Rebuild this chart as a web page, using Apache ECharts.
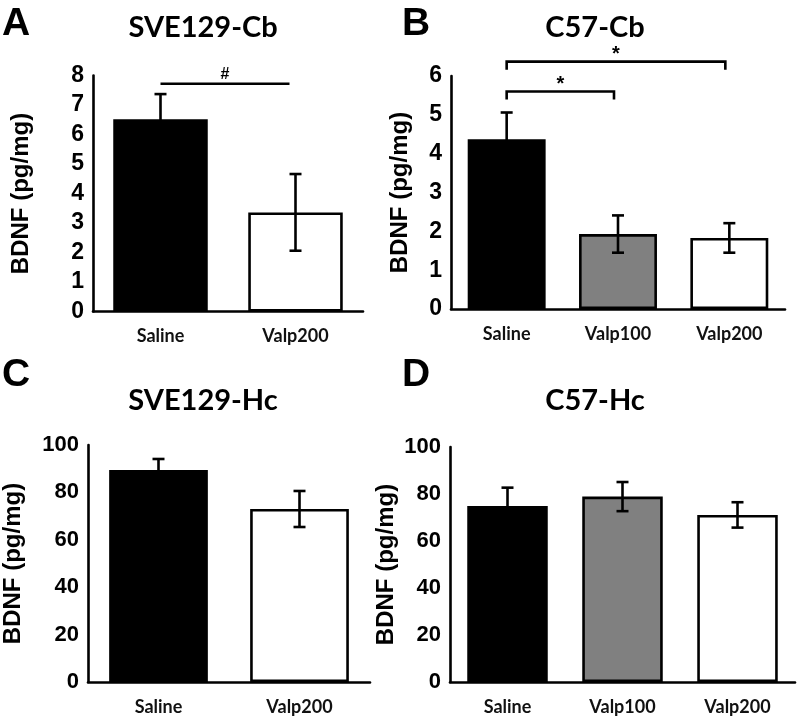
<!DOCTYPE html>
<html>
<head>
<meta charset="utf-8">
<script src="https://cdn.jsdelivr.net/npm/echarts@6/dist/echarts.min.js"></script>
<style>
html,body{margin:0;padding:0;background:#fff;}
#main{width:800px;height:725px;}
</style>
</head>
<body>
<div id="main"></div>
<script>
// ---- data ----
const categoriesA = ['Saline', 'Valp200'];
const meansA = [6.52, 3.36];
const errA = [0.85, 1.3];
const sigA = [[0, 1, 7.72, '#']];

const categoriesB = ['Saline', 'Valp100', 'Valp200'];
const meansB = [4.37, 1.93, 1.83];
const errB = [0.69, 0.48, 0.38];
const sigB = [[0, 1, 5.6, '*'], [0, 2, 6.37, '*']];

const categoriesC = ['Saline', 'Valp200'];
const meansC = [89.5, 73.0];
const errC = [4.6, 7.6];

const categoriesD = ['Saline', 'Valp100', 'Valp200'];
const meansD = [74.9, 78.9, 71.1];
const errD = [7.8, 6.2, 5.4];

const yMaxA = 8, yStepA = 1;
const yMaxB = 6, yStepB = 1;
const yMaxC = 100, yStepC = 20;
const yMaxD = 100, yStepD = 20;

const panelTitles = ['SVE129-Cb', 'C57-Cb', 'SVE129-Hc', 'C57-Hc'];
const panelLetters = ['A', 'B', 'C', 'D'];
const yName = 'BDNF (pg/mg)';

// ---- styles ----
const fills2 = ['#000000', '#ffffff'];
const fills3 = ['#000000', '#808080', '#ffffff'];
const LW = 2.6;
const tickFont = 'Liberation Sans, Arial, sans-serif';
const catFont = 'Lato, "Open Sans", sans-serif';

const chart = echarts.init(document.getElementById('main'));

const grids = [
  {left: 93, top: 75.5, width: 270, height: 236},
  {left: 451, top: 76, width: 334, height: 233},
  {left: 86, top: 445, width: 284, height: 237},
  {left: 450, top: 447, width: 345, height: 235}
];

function xAxis(i, cats) {
  return {
    type: 'category', gridIndex: i, data: cats,
    axisLine: {lineStyle: {color: '#000', width: LW}},
    axisTick: {show: false},
    axisLabel: {color: '#111', fontFamily: catFont, fontWeight: 'bold', fontSize: 18, margin: 16}
  };
}
function yAxis(i, max, step, gap, labelSize) {
  return {
    type: 'value', gridIndex: i, min: 0, max: max, interval: step,
    name: yName, nameLocation: 'middle', nameGap: gap,
    nameTextStyle: {color: '#000', fontFamily: tickFont, fontWeight: 'bold', fontSize: 24},
    axisLine: {show: true, lineStyle: {color: '#000', width: LW}},
    axisTick: {show: false},
    splitLine: {show: false},
    axisLabel: {color: '#000', fontFamily: tickFont, fontWeight: 'bold', fontSize: labelSize, margin: 9}
  };
}
function barSeries(i, means, fills) {
  return {
    type: 'bar', xAxisIndex: i, yAxisIndex: i, barWidth: '70%',
    data: means.map((v, k) => ({value: v, itemStyle: {color: fills[k], borderColor: '#000', borderWidth: LW}})),
    silent: true, animation: false
  };
}
function errSeries(i, means, errs) {
  return {
    type: 'custom', xAxisIndex: i, yAxisIndex: i, clip: false, animation: false, silent: true, z: 5,
    data: means.map((v, k) => [k, v, errs[k]]),
    renderItem: function (params, api) {
      const k = api.value(0), v = api.value(1), e = api.value(2);
      const top = api.coord([k, v + e]);
      const bot = api.coord([k, v - e]);
      const w = 6;
      const st = {stroke: '#000', lineWidth: LW, fill: null};
      return {type: 'group', children: [
        {type: 'line', shape: {x1: top[0], y1: top[1], x2: bot[0], y2: bot[1]}, style: st},
        {type: 'line', shape: {x1: top[0] - w, y1: top[1], x2: top[0] + w, y2: top[1]}, style: st},
        {type: 'line', shape: {x1: bot[0] - w, y1: bot[1], x2: bot[0] + w, y2: bot[1]}, style: st}
      ]};
    }
  };
}
function sigSeries(i, sigs, tickLen, fontSize, textOffset, shrinkRight) {
  return {
    type: 'custom', xAxisIndex: i, yAxisIndex: i, clip: false, animation: false, silent: true, z: 6,
    data: sigs,
    renderItem: function (params, api) {
      const a = api.coord([api.value(0), api.value(2)]);
      const b = api.coord([api.value(1), api.value(2)]);
      const x2 = b[0] - shrinkRight;
      const st = {stroke: '#000', lineWidth: LW, fill: null};
      const pts = tickLen > 0
        ? [[a[0], a[1] + tickLen], [a[0], a[1]], [x2, a[1]], [x2, a[1] + tickLen]]
        : [[a[0], a[1]], [x2, a[1]]];
      return {type: 'group', children: [
        {type: 'polyline', shape: {points: pts}, style: st},
        {type: 'text', style: {text: sigs[params.dataIndex][3], x: (a[0] + x2) / 2, y: a[1] - textOffset,
          align: 'center', verticalAlign: 'middle', fill: '#000', font: 'bold ' + fontSize + 'px ' + tickFont}}
      ]};
    }
  };
}

const titleStyle = {color: '#000', fontFamily: catFont, fontWeight: 'bold', fontSize: 29};
const letterStyle = {color: '#000', fontFamily: tickFont, fontWeight: 'bold', fontSize: 39};

const option = {
  backgroundColor: '#fff',
  animation: false,
  title: [
    {text: panelLetters[0], left: 2, top: 5, padding: 0, textStyle: letterStyle},
    {text: panelLetters[1], left: 402, top: 5, padding: 0, textStyle: letterStyle},
    {text: panelLetters[2], left: 2, top: 356, padding: 0, textStyle: letterStyle},
    {text: panelLetters[3], left: 402, top: 356, padding: 0, textStyle: letterStyle},
    {text: panelTitles[0], left: 203, top: 13, textAlign: 'center', padding: 0, textStyle: titleStyle},
    {text: panelTitles[1], left: 595, top: 13, textAlign: 'center', padding: 0, textStyle: titleStyle},
    {text: panelTitles[2], left: 203, top: 386, textAlign: 'center', padding: 0, textStyle: titleStyle},
    {text: panelTitles[3], left: 595, top: 386, textAlign: 'center', padding: 0, textStyle: titleStyle}
  ],
  grid: grids,
  xAxis: [xAxis(0, categoriesA), xAxis(1, categoriesB), xAxis(2, categoriesC), xAxis(3, categoriesD)],
  yAxis: [yAxis(0, yMaxA, yStepA, 60, 23), yAxis(1, yMaxB, yStepB, 39, 23), yAxis(2, yMaxC, yStepC, 63, 22), yAxis(3, yMaxD, yStepD, 52, 22)],
  series: [
    barSeries(0, meansA, fills2), errSeries(0, meansA, errA), sigSeries(0, sigA, 0, 16, 9, 6),
    barSeries(1, meansB, fills3), errSeries(1, meansB, errB), sigSeries(1, sigB, 8, 20, 7, 4),
    barSeries(2, meansC, fills2), errSeries(2, meansC, errC),
    barSeries(3, meansD, fills3), errSeries(3, meansD, errD)
  ]
};
chart.setOption(option);
</script>
</body>
</html>
